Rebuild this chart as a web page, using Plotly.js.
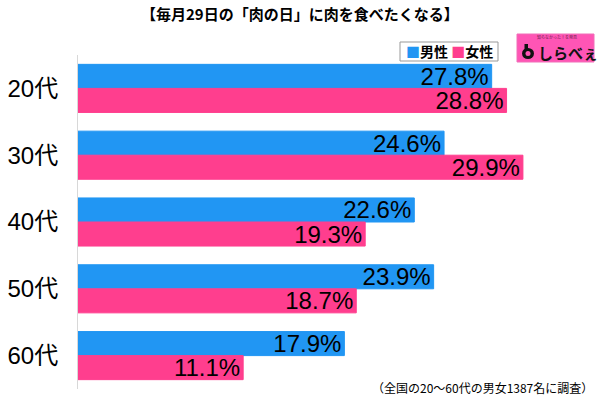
<!DOCTYPE html>
<html><head><meta charset="utf-8">
<script src="https://cdn.plot.ly/plotly-3.0.1.min.js"></script>
<style>body{margin:0;background:#fff}#c{width:600px;height:400px}</style>
</head><body><div id="c"></div>
<script>
const categories = ["20代","30代","40代","50代","60代"];
const male = [27.8, 24.6, 22.6, 23.9, 17.9];
const female = [28.8, 29.9, 19.3, 18.7, 11.1];
const seriesNames = ["男性","女性"];
const colors = ["#2196F3", "#FF3E8E"];
const font = "Liberation Sans, Arial, Noto Sans CJK JP, sans-serif";
const jp = "Noto Sans CJK JP, sans-serif";

// pixel -> paper helpers (plot area: x 78..600, y 55..389)
const px = p => (p-78)/522;
const py = p => (389-p)/334;

function mk(vals, name, color){
  return {
    type:'bar', orientation:'h', y:categories, x:vals, name:name,
    marker:{color:color, line:{color:color, width:1}},
    text: vals.map(v=>v.toFixed(1)+'%'), textposition:'inside', insidetextanchor:'end',
    constraintext:'none',
    textfont:{family:font, size:24, color:'#000'}, cliponaxis:false, hoverinfo:'skip'
  };
}
const data = [mk(male, seriesNames[0], colors[0]), mk(female, seriesNames[1], colors[1])];
const layout = {
  width:600, height:400, margin:{l:78, r:0, t:55, b:11},
  paper_bgcolor:'#fff', plot_bgcolor:'#fff', showlegend:false,
  barmode:'group', bargap:0.28, bargroupgap:0,
  font:{family:font},
  xaxis:{range:[0,35.08], visible:false, fixedrange:true},
  yaxis:{autorange:'reversed', showgrid:false, zeroline:false, showline:true, linecolor:'#d8d8d8', linewidth:1,
         ticks:'', tickfont:{family:font, size:24, color:'#000'}, ticklabelstandoff:14},
  shapes:[
    {type:'rect', xref:'paper', yref:'paper', x0:px(400), x1:px(498), y0:py(61), y1:py(42),
     line:{color:'#999', width:1}, fillcolor:'#fff'},
    {type:'rect', xref:'paper', yref:'paper', x0:px(517), x1:px(594), y0:py(62), y1:py(34),
     line:{color:'#f06fb8', width:1}, fillcolor:'#FF55B5'},
    {type:'circle', xref:'paper', yref:'paper', x0:px(522), x1:px(534), y0:py(59), y1:py(48),
     line:{color:'#111', width:0}, fillcolor:'#111'},
    {type:'rect', xref:'paper', yref:'paper', x0:px(524.5), x1:px(528), y0:py(52), y1:py(44),
     line:{color:'#111', width:0}, fillcolor:'#111'},
    {type:'circle', xref:'paper', yref:'paper', x0:px(525.5), x1:px(530.5), y0:py(56), y1:py(51),
     line:{width:0}, fillcolor:'#FF55B5'}
  ],
  annotations:[
    {xref:'paper', yref:'paper', x:0.5, y:1, xanchor:'center', yanchor:'bottom', yshift:29, xshift:-39,
     text:'<b>【毎月29日の「肉の日」に肉を食べたくなる】</b>', showarrow:false,
     font:{family:jp, size:15, color:'#000'}},
    {xref:'paper', yref:'paper', x:px(449), y:py(51.5), xanchor:'center', yanchor:'middle',
     text:'<span style="color:#2196F3">■</span><b>男性</b> <span style="color:#FF3E8E">■</span><b>女性</b>', showarrow:false,
     font:{family:jp, size:14, color:'#000'}},
    {xref:'paper', yref:'paper', x:px(557), y:py(37.5), xanchor:'center', yanchor:'middle',
     text:'知らなかった！を発見', showarrow:false, borderpad:0,
     font:{family:jp, size:4, color:'#6a1f4a'}},
    {xref:'paper', yref:'paper', x:px(537), y:py(52.5), xanchor:'left', yanchor:'middle',
     text:'<b>しらべぇ</b>', showarrow:false, borderpad:0,
     font:{family:jp, size:15, color:'#111'}},
    {xref:'paper', yref:'paper', x:1, y:0, xanchor:'right', yanchor:'bottom', xshift:-5, yshift:-9,
     text:'（全国の20～60代の男女1387名に調査）', showarrow:false,
     font:{family:jp, size:12, color:'#000'}}
  ]
};
Plotly.newPlot('c', data, layout, {displayModeBar:false, staticPlot:true});
</script></body></html>
